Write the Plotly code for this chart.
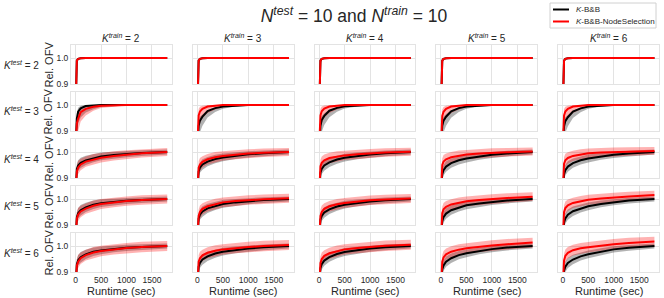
import plotly.graph_objects as go
from plotly.subplots import make_subplots

# ---------------- data ----------------
runtime = [0, 10, 25, 50, 100, 200, 350, 500, 750, 1000, 1300, 1800]
k_train = [2, 3, 4, 5, 6]
k_test = [2, 3, 4, 5, 6]
x_ticks = [0, 500, 1000, 1500]
y_ticks = [0.9, 1.0]

# mean relative OFV, per K_test row, list over K_train columns
bb_k2 = [[0.80, 0.965, 0.99, 0.997, 0.999, 1.0, 1.0, 1.0, 1.0, 1.0, 1.0, 1.0]] * 5
ns_k2 = [[0.80, 0.965, 0.99, 0.997, 0.999, 1.0, 1.0, 1.0, 1.0, 1.0, 1.0, 1.0]] * 5

bb_k3 = [
    [0.84, 0.91, 0.948, 0.974, 0.987, 0.996, 0.999, 1.0, 1.0, 1.0, 1.0, 1.0],
    [0.84, 0.89, 0.92, 0.94, 0.955, 0.977, 0.988, 0.994, 0.998, 1.0, 1.0, 1.0],
    [0.84, 0.89, 0.92, 0.942, 0.958, 0.978, 0.989, 0.995, 0.998, 1.0, 1.0, 1.0],
    [0.84, 0.89, 0.92, 0.94, 0.955, 0.976, 0.988, 0.994, 0.998, 1.0, 1.0, 1.0],
    [0.84, 0.89, 0.918, 0.938, 0.953, 0.975, 0.987, 0.994, 0.998, 1.0, 1.0, 1.0],
]
ns_k3 = [
    [0.84, 0.89, 0.93, 0.948, 0.972, 0.985, 0.993, 0.997, 0.999, 1.0, 1.0, 1.0],
    [0.84, 0.93, 0.96, 0.975, 0.985, 0.994, 0.998, 1.0, 1.0, 1.0, 1.0, 1.0],
    [0.84, 0.93, 0.96, 0.976, 0.986, 0.994, 0.998, 1.0, 1.0, 1.0, 1.0, 1.0],
    [0.84, 0.93, 0.958, 0.974, 0.985, 0.994, 0.998, 1.0, 1.0, 1.0, 1.0, 1.0],
    [0.84, 0.93, 0.96, 0.975, 0.985, 0.994, 0.998, 1.0, 1.0, 1.0, 1.0, 1.0],
]

bb_k4 = [
    [0.84, 0.91, 0.935, 0.948, 0.958, 0.968, 0.977, 0.983, 0.988, 0.992, 0.996, 1.0],
    [0.84, 0.90, 0.925, 0.94, 0.952, 0.963, 0.973, 0.979, 0.986, 0.991, 0.995, 1.0],
    [0.84, 0.895, 0.92, 0.935, 0.948, 0.96, 0.971, 0.978, 0.985, 0.99, 0.995, 1.0],
    [0.84, 0.89, 0.915, 0.93, 0.944, 0.957, 0.968, 0.975, 0.983, 0.989, 0.994, 1.0],
    [0.84, 0.89, 0.915, 0.93, 0.944, 0.957, 0.968, 0.975, 0.983, 0.989, 0.994, 1.0],
]
ns_k4 = [
    [0.84, 0.90, 0.925, 0.94, 0.952, 0.963, 0.972, 0.978, 0.985, 0.99, 0.995, 1.0],
    [0.84, 0.915, 0.94, 0.952, 0.962, 0.972, 0.98, 0.985, 0.99, 0.994, 0.997, 1.0],
    [0.84, 0.92, 0.945, 0.958, 0.968, 0.977, 0.983, 0.987, 0.991, 0.995, 0.998, 1.001],
    [0.84, 0.925, 0.95, 0.963, 0.972, 0.98, 0.986, 0.99, 0.994, 0.997, 0.999, 1.002],
    [0.84, 0.93, 0.955, 0.968, 0.977, 0.985, 0.991, 0.995, 0.998, 1.0, 1.002, 1.004],
]

bb_k5 = [
    [0.84, 0.905, 0.93, 0.945, 0.957, 0.968, 0.978, 0.984, 0.989, 0.993, 0.996, 1.0],
    [0.84, 0.90, 0.925, 0.94, 0.952, 0.964, 0.974, 0.981, 0.987, 0.992, 0.996, 1.0],
    [0.84, 0.895, 0.92, 0.935, 0.948, 0.96, 0.971, 0.978, 0.985, 0.99, 0.995, 1.0],
    [0.84, 0.89, 0.915, 0.93, 0.944, 0.957, 0.968, 0.976, 0.983, 0.989, 0.994, 1.0],
    [0.84, 0.885, 0.91, 0.925, 0.94, 0.953, 0.964, 0.972, 0.981, 0.988, 0.994, 1.0],
]
ns_k5 = [
    [0.84, 0.90, 0.925, 0.94, 0.952, 0.963, 0.974, 0.981, 0.987, 0.992, 0.996, 1.0],
    [0.84, 0.91, 0.935, 0.95, 0.962, 0.972, 0.981, 0.987, 0.992, 0.996, 0.999, 1.003],
    [0.84, 0.91, 0.935, 0.95, 0.962, 0.972, 0.98, 0.985, 0.99, 0.995, 0.998, 1.002],
    [0.84, 0.92, 0.945, 0.96, 0.97, 0.979, 0.986, 0.991, 0.996, 1.0, 1.004, 1.009],
    [0.84, 0.925, 0.95, 0.965, 0.976, 0.985, 0.992, 0.997, 1.002, 1.006, 1.01, 1.015],
]

bb_k6 = [
    [0.84, 0.905, 0.93, 0.945, 0.957, 0.968, 0.978, 0.983, 0.989, 0.993, 0.996, 1.0],
    [0.84, 0.895, 0.92, 0.935, 0.948, 0.96, 0.971, 0.978, 0.985, 0.99, 0.995, 1.0],
    [0.84, 0.89, 0.915, 0.93, 0.944, 0.957, 0.969, 0.977, 0.984, 0.99, 0.995, 1.0],
    [0.84, 0.885, 0.91, 0.925, 0.94, 0.953, 0.965, 0.972, 0.981, 0.988, 0.994, 1.0],
    [0.84, 0.88, 0.905, 0.92, 0.935, 0.948, 0.96, 0.968, 0.978, 0.987, 0.993, 1.0],
]
ns_k6 = [
    [0.84, 0.90, 0.925, 0.94, 0.953, 0.965, 0.975, 0.981, 0.987, 0.992, 0.996, 1.0],
    [0.84, 0.915, 0.94, 0.953, 0.964, 0.974, 0.982, 0.987, 0.992, 0.996, 1.0, 1.004],
    [0.84, 0.91, 0.935, 0.95, 0.962, 0.972, 0.981, 0.987, 0.992, 0.997, 1.001, 1.005],
    [0.84, 0.915, 0.94, 0.956, 0.968, 0.978, 0.986, 0.991, 0.997, 1.002, 1.007, 1.013],
    [0.84, 0.92, 0.945, 0.962, 0.974, 0.984, 0.991, 0.995, 1.002, 1.007, 1.012, 1.017],
]

# distance from mean to lower / upper edge of shaded band, per K_test row
bb_band_low = [
    [0, 0.04, 0.015, 0.005, 0.001, 0, 0, 0, 0, 0, 0, 0],
    [0, 0.04, 0.045, 0.045, 0.035, 0.025, 0.015, 0.008, 0.004, 0.002, 0, 0],
    [0, 0.02, 0.02, 0.02, 0.02, 0.018, 0.016, 0.015, 0.013, 0.012, 0.011, 0.01],
    [0, 0.02, 0.02, 0.02, 0.02, 0.018, 0.016, 0.015, 0.013, 0.012, 0.011, 0.01],
    [0, 0.02, 0.02, 0.02, 0.02, 0.018, 0.016, 0.015, 0.013, 0.012, 0.011, 0.01],
]
bb_band_high = [
    [0, 0.02, 0.008, 0.002, 0.001, 0, 0, 0, 0, 0, 0, 0],
    [0, 0.025, 0.02, 0.015, 0.01, 0.004, 0.001, 0, 0, 0, 0, 0],
    [0, 0.02, 0.02, 0.02, 0.02, 0.018, 0.016, 0.015, 0.013, 0.012, 0.011, 0.01],
    [0, 0.02, 0.02, 0.02, 0.02, 0.018, 0.016, 0.015, 0.013, 0.012, 0.011, 0.01],
    [0, 0.02, 0.02, 0.02, 0.02, 0.018, 0.016, 0.015, 0.013, 0.012, 0.011, 0.01],
]
ns_band_low = [
    [0, 0.04, 0.015, 0.005, 0.001, 0, 0, 0, 0, 0, 0, 0],
    [0, 0.045, 0.05, 0.045, 0.035, 0.025, 0.015, 0.009, 0.005, 0.002, 0, 0],
    [0, 0.025, 0.025, 0.025, 0.022, 0.02, 0.02, 0.018, 0.018, 0.017, 0.016, 0.015],
    [0, 0.025, 0.025, 0.025, 0.022, 0.02, 0.02, 0.019, 0.019, 0.018, 0.018, 0.017],
    [0, 0.025, 0.025, 0.025, 0.022, 0.021, 0.021, 0.02, 0.02, 0.02, 0.02, 0.019],
]
ns_band_high = [
    [0, 0.02, 0.008, 0.002, 0.001, 0, 0, 0, 0, 0, 0, 0],
    [0, 0.03, 0.025, 0.018, 0.012, 0.005, 0.002, 0, 0, 0, 0, 0],
    [0, 0.025, 0.025, 0.025, 0.022, 0.02, 0.02, 0.018, 0.018, 0.017, 0.016, 0.015],
    [0, 0.025, 0.025, 0.025, 0.022, 0.02, 0.02, 0.019, 0.019, 0.018, 0.018, 0.017],
    [0, 0.025, 0.025, 0.025, 0.022, 0.021, 0.021, 0.02, 0.02, 0.02, 0.02, 0.019],
]

bb_rows = [bb_k2, bb_k3, bb_k4, bb_k5, bb_k6]
ns_rows = [ns_k2, ns_k3, ns_k4, ns_k5, ns_k6]
legend_names = ["<i>K</i>-B&B", "<i>K</i>-B&B-NodeSelection"]
line_colors = ["black", "red"]
band_colors = ["rgba(0,0,0,0.3)", "rgba(255,0,0,0.3)"]

# ---------------- figure ----------------
FONT = "Liberation Sans, Arial, sans-serif"
TXT = "#262626"
GRID = "#e3e3e3"

fig = make_subplots(rows=5, cols=5, horizontal_spacing=21 / 588,
                    vertical_spacing=8 / 227)

series = list(zip(legend_names, [bb_rows, ns_rows],
                  [bb_band_low, ns_band_low], [bb_band_high, ns_band_high],
                  line_colors, band_colors))

for r in range(5):
    for c in range(5):
        for name, rows, blo, bhi, lc, fc in series:
            m = rows[r][c]
            lo = [mi - bi for mi, bi in zip(m, blo[r])]
            hi = [mi + bi for mi, bi in zip(m, bhi[r])]
            fig.add_trace(go.Scatter(x=runtime, y=lo, mode="lines",
                                     line=dict(width=0, color=fc),
                                     showlegend=False, hoverinfo="skip"),
                          row=r + 1, col=c + 1)
            fig.add_trace(go.Scatter(x=runtime, y=hi, mode="lines",
                                     line=dict(width=0, color=fc),
                                     fill="tonexty", fillcolor=fc,
                                     showlegend=False, hoverinfo="skip"),
                          row=r + 1, col=c + 1)
        for name, rows, blo, bhi, lc, fc in series:
            fig.add_trace(go.Scatter(x=runtime, y=rows[r][c], mode="lines",
                                     line=dict(width=2, color=lc),
                                     name=name, showlegend=False),
                          row=r + 1, col=c + 1)

fig.update_xaxes(range=[-90, 1890], tickvals=x_ticks, showgrid=True,
                 gridcolor=GRID, gridwidth=1, zeroline=False,
                 showline=True, linecolor=GRID, linewidth=1, mirror=True,
                 showticklabels=False, ticks="", tickangle=0, automargin=False,
                 ticklabelstandoff=0,
                 tickfont=dict(size=8.5, color=TXT, family=FONT))
fig.update_yaxes(range=[0.9, 1.05], tickvals=y_ticks, ticktext=["0.9", "1.0"],
                 showgrid=True, gridcolor=GRID, gridwidth=1, zeroline=False,
                 showline=True, linecolor=GRID, linewidth=1, mirror=True,
                 showticklabels=False, ticks="", automargin=False,
                 tickfont=dict(size=8.5, color=TXT, family=FONT))
for c in range(5):
    fig.update_xaxes(showticklabels=True, row=5, col=c + 1)
for r in range(5):
    fig.update_yaxes(showticklabels=True, row=r + 1, col=1)

annotations = []
shapes = []
W, H = 588, 227
L, T = 71, 45
col_w = (W - 4 * 21) / 5
row_h = (H - 4 * 8) / 5


def px_x(px):
    return (px - L) / W


def px_y(py):
    return (T + H - py) / H


for c, kt in enumerate(k_train):
    cx = (c * (col_w + 21) + col_w / 2) / W
    annotations.append(dict(
        text=f"<i>K</i><sup><i>train</i></sup> = {kt}", x=cx, y=px_y(38),
        xref="paper", yref="paper", xanchor="center", yanchor="middle",
        showarrow=False, font=dict(size=10, color=TXT, family=FONT)))
    annotations.append(dict(
        text="Runtime (sec)", x=cx, y=px_y(290.5),
        xref="paper", yref="paper", xanchor="center", yanchor="middle",
        showarrow=False, font=dict(size=11, color=TXT, family=FONT)))
for r, kt in enumerate(k_test):
    cy = 1 - (r * (row_h + 8) + row_h / 2) / H
    annotations.append(dict(
        text=f"<i>K</i><sup><i>test</i></sup> = {kt}", x=px_x(21), y=cy,
        xref="paper", yref="paper", xanchor="center", yanchor="middle",
        showarrow=False, font=dict(size=10, color=TXT, family=FONT)))
    annotations.append(dict(
        text="Rel. OFV", x=px_x(48), y=cy, textangle=-90,
        xref="paper", yref="paper", xanchor="center", yanchor="middle",
        showarrow=False, font=dict(size=11, color=TXT, family=FONT)))

# hand-drawn legend box (top right)
shapes.append(dict(type="rect", xref="paper", yref="paper",
                   x0=px_x(550), x1=px_x(656), y0=px_y(28), y1=px_y(3),
                   line=dict(color="#d0d0d0", width=1), fillcolor="white"))
for i, (name, lc) in enumerate(zip(legend_names, line_colors)):
    yy = px_y(9.5 + 12 * i)
    shapes.append(dict(type="line", xref="paper", yref="paper",
                       x0=px_x(553), x1=px_x(569), y0=yy, y1=yy,
                       line=dict(color=lc, width=2)))
    annotations.append(dict(
        text=name, x=px_x(574), y=yy, xref="paper", yref="paper",
        xanchor="left", yanchor="middle", showarrow=False,
        font=dict(size=8, color=TXT, family=FONT)))

fig.update_layout(
    width=664, height=298,
    margin=dict(l=L, r=5, t=T, b=26, autoexpand=False),
    paper_bgcolor="white", plot_bgcolor="white",
    font=dict(family=FONT, color=TXT),
    showlegend=False,
    title=dict(text="<i>N</i><sup><i>test</i></sup> = 10 and <i>N</i><sup><i>train</i></sup> = 10",
               x=354 / 664, xanchor="center", y=1 - 16 / 298, yanchor="middle",
               xref="container", yref="container",
               font=dict(size=17.5, color=TXT, family=FONT)),
    annotations=annotations,
    shapes=shapes,
)

fig.write_html("out.html", config={"displayModeBar": False},
               post_script="document.body.style.margin='0';"
                           "document.body.style.padding='0';")
